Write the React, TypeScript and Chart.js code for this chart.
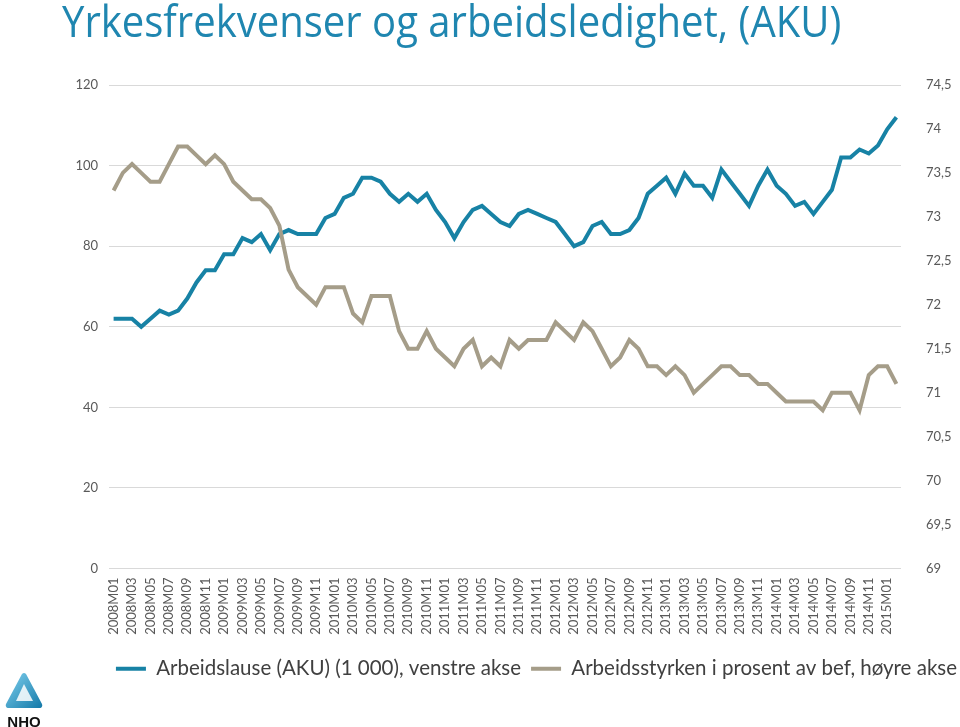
import React, { useEffect, useRef } from "react";
import { Chart, registerables } from "chart.js";

Chart.register(...registerables);

// Category labels: monthly, 2008M01 .. 2015M02
const YEARS = [2008, 2009, 2010, 2011, 2012, 2013, 2014];
const MONTHS = ["01", "02", "03", "04", "05", "06", "07", "08", "09", "10", "11", "12"];
const EXTRA_MONTHS = ["2015M01", "2015M02"];
const MONTH_LABELS: string[] = [];
for (const y of YEARS) for (const m of MONTHS) MONTH_LABELS.push(`${y}M${m}`);
MONTH_LABELS.push(...EXTRA_MONTHS);

// Arbeidslause (AKU), 1 000 personar – venstre akse
const UNEMPLOYED = [
  62, 62, 62, 60, 62, 64, 63, 64, 67, 71, 74, 74,
  78, 78, 82, 81, 83, 79, 83, 84, 83, 83, 83, 87,
  88, 92, 93, 97, 97, 96, 93, 91, 93, 91, 93, 89,
  86, 82, 86, 89, 90, 88, 86, 85, 88, 89, 88, 87,
  86, 83, 80, 81, 85, 86, 83, 83, 84, 87, 93, 95,
  97, 93, 98, 95, 95, 92, 99, 96, 93, 90, 95, 99,
  95, 93, 90, 91, 88, 91, 94, 102, 102, 104, 103, 105,
  109, 112,
];

// Arbeidsstyrken i prosent av befolkningen – høyre akse
const LABOUR_FORCE = [
  73.3, 73.5, 73.6, 73.5, 73.4, 73.4, 73.6, 73.8, 73.8, 73.7, 73.6, 73.7,
  73.6, 73.4, 73.3, 73.2, 73.2, 73.1, 72.9, 72.4, 72.2, 72.1, 72.0, 72.2,
  72.2, 72.2, 71.9, 71.8, 72.1, 72.1, 72.1, 71.7, 71.5, 71.5, 71.7, 71.5,
  71.4, 71.3, 71.5, 71.6, 71.3, 71.4, 71.3, 71.6, 71.5, 71.6, 71.6, 71.6,
  71.8, 71.7, 71.6, 71.8, 71.7, 71.5, 71.3, 71.4, 71.6, 71.5, 71.3, 71.3,
  71.2, 71.3, 71.2, 71.0, 71.1, 71.2, 71.3, 71.3, 71.2, 71.2, 71.1, 71.1,
  71.0, 70.9, 70.9, 70.9, 70.9, 70.8, 71.0, 71.0, 71.0, 70.8, 71.2, 71.3,
  71.3, 71.1,
];

const LEFT_MIN = 0;
const LEFT_MAX = 120;
const LEFT_STEP = 20;
const RIGHT_MIN = 69;
const RIGHT_MAX = 74.5;
const RIGHT_STEP = 0.5;

const TITLE = "Yrkesfrekvenser og arbeidsledighet, (AKU)";
const SERIES_NAMES = [
  "Arbeidslause (AKU) (1 000), venstre akse",
  "Arbeidsstyrken i prosent av bef, høyre akse",
];

const BLUE = "#1782A5";
const TAN = "#A59D89";
const GRID = "#D9D9D9";
const TICK = "#595959";
const LEGEND_TEXT = "#404040";
const TITLE_COLOR = "#1F86B0";

export default function App() {
  const ref = useRef<HTMLCanvasElement>(null);

  useEffect(() => {
    document.body.style.margin = "0";
    const chart = new Chart(ref.current!, {
      type: "line",
      data: {
        labels: MONTH_LABELS,
        datasets: [
          {
            label: SERIES_NAMES[0],
            data: UNEMPLOYED,
            borderColor: BLUE,
            backgroundColor: BLUE,
            borderWidth: 4,
            pointRadius: 0,
            tension: 0,
            yAxisID: "yL",
            order: 1,
          },
          {
            label: SERIES_NAMES[1],
            data: LABOUR_FORCE,
            borderColor: TAN,
            backgroundColor: TAN,
            borderWidth: 4,
            pointRadius: 0,
            tension: 0,
            yAxisID: "yR",
            order: 0,
          },
        ],
      },
      options: {
        responsive: false,
        animation: false,
        layout: { padding: { top: 85, bottom: 38, left: 0, right: -7 } },
        font: { family: "Lato" },
        plugins: {
          tooltip: { enabled: false },
          legend: {
            position: "bottom",
            align: "end",
            labels: {
              font: { family: "Lato", size: 20.5 },
              color: LEGEND_TEXT,
              boxWidth: 30,
              boxHeight: 4,
              padding: 10,
              sort: (a: any, b: any) => a.datasetIndex - b.datasetIndex,
              generateLabels: (c: any) =>
                Chart.defaults.plugins.legend.labels
                  .generateLabels(c)
                  .map((l: any) => ({ ...l, lineWidth: 0 })),
            },
          },
        },
        scales: {
          x: {
            offset: true,
            grid: { display: false, drawTicks: false },
            border: { display: false },
            ticks: {
              autoSkip: false,
              maxRotation: 90,
              minRotation: 90,
              padding: 9,
              color: TICK,
              font: { family: "Lato", size: 13 },
              callback: (_v: any, i: number) => (i % 2 === 0 ? MONTH_LABELS[i] : ""),
            },
            afterFit: (s: any) => {
              s.height = 80;
            },
          },
          yL: {
            position: "left",
            min: LEFT_MIN,
            max: LEFT_MAX,
            grid: { color: GRID, lineWidth: 1, drawTicks: false },
            border: { display: false },
            ticks: {
              stepSize: LEFT_STEP,
              padding: 11,
              color: TICK,
              font: { family: "Lato", size: 13 },
            },
            afterFit: (s: any) => {
              s.width = 109;
            },
          },
          yR: {
            position: "right",
            min: RIGHT_MIN,
            max: RIGHT_MAX,
            grid: { display: false, drawTicks: false },
            border: { display: false },
            ticks: {
              stepSize: RIGHT_STEP,
              padding: 25,
              color: TICK,
              font: { family: "Lato", size: 13 },
              callback: (v: any) =>
                Number.isInteger(v) ? String(v) : Number(v).toFixed(1).replace(".", ","),
            },
            afterFit: (s: any) => {
              s.width = 66;
            },
          },
        },
      },
    } as any);
    return () => chart.destroy();
  }, []);

  return (
    <div style={{ position: "fixed", left: 0, top: 0, width: 960, height: 727, background: "#fff" }}>
      <canvas ref={ref} width={960} height={727} style={{ display: "block" }} />
      <div
        style={{
          position: "absolute",
          left: 62,
          top: -10,
          fontFamily: "Open Sans",
          fontSize: 44,
          color: TITLE_COLOR,
          whiteSpace: "nowrap",
          transformOrigin: "left top",
          transform: "scaleX(0.91)",
        }}
      >
        {TITLE}
      </div>
      <div style={{ position: "absolute", left: 2, top: 672, width: 44, textAlign: "center" }}>
        <svg width="40" height="38" viewBox="0 0 40 38">
          <defs>
            <linearGradient id="nhoG" x1="0" y1="0" x2="1" y2="1">
              <stop offset="0" stopColor="#7fd0ee" />
              <stop offset="1" stopColor="#1479a8" />
            </linearGradient>
          </defs>
          <path d="M18 2 Q20 0 22 2 L38 32 Q39 36 35 36 L5 36 Q1 36 2 32 Z" fill="url(#nhoG)" />
          <path d="M20 12 L29 29 L12 29 Z" fill="#ffffff" opacity="0.85" />
        </svg>
        <div style={{ fontFamily: "Liberation Sans", fontWeight: 700, fontSize: 15, lineHeight: "15px", color: "#111" }}>
          NHO
        </div>
      </div>
    </div>
  );
}
